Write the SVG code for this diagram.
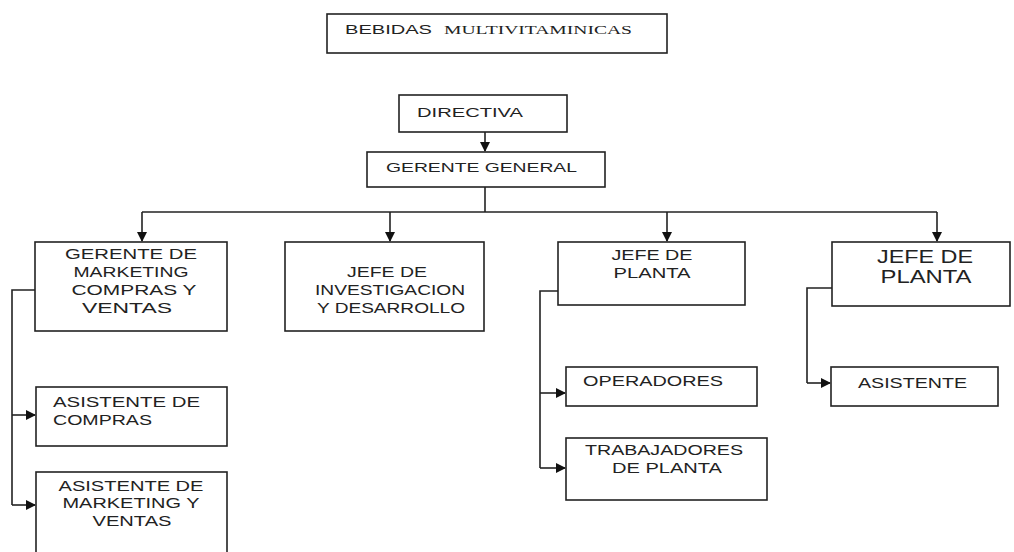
<svg xmlns="http://www.w3.org/2000/svg" width="1014" height="552" viewBox="0 0 1014 552">
<defs>
<marker id="ah" markerWidth="10" markerHeight="10" refX="9" refY="5" orient="auto" markerUnits="userSpaceOnUse">
<path d="M0,0 L10,5 L0,10 Z" fill="#111"/>
</marker>
<style>
.box{fill:#fff;stroke:#222;stroke-width:1.6}
.ln{fill:none;stroke:#222;stroke-width:1.6}
.t{font-family:"Liberation Sans",Arial,sans-serif;font-size:14px;fill:#222}
.tc{text-anchor:middle}
.big{font-size:18px}
.sm{font-size:12px}
</style>
</defs>
<rect width="1014" height="552" fill="#fff"/>

<g id="connectors">
<line class="ln" x1="485" y1="132" x2="485" y2="151" marker-end="url(#ah)"/>
<polyline class="ln" points="485,187 485,212"/>
<polyline class="ln" points="142,212 937,212"/>
<line class="ln" x1="142" y1="212" x2="142" y2="241" marker-end="url(#ah)"/>
<line class="ln" x1="390" y1="212" x2="390" y2="241" marker-end="url(#ah)"/>
<line class="ln" x1="667" y1="212" x2="667" y2="241" marker-end="url(#ah)"/>
<line class="ln" x1="937" y1="212" x2="937" y2="241" marker-end="url(#ah)"/>
<polyline class="ln" points="35,290 12,290 12,505"/>
<line class="ln" x1="12" y1="415" x2="35" y2="415" marker-end="url(#ah)"/>
<line class="ln" x1="12" y1="505" x2="35" y2="505" marker-end="url(#ah)"/>
<polyline class="ln" points="558,291 540,291 540,468"/>
<line class="ln" x1="540" y1="393" x2="565" y2="393" marker-end="url(#ah)"/>
<line class="ln" x1="540" y1="468" x2="565" y2="468" marker-end="url(#ah)"/>
<polyline class="ln" points="832,288 807,288 807,383"/>
<line class="ln" x1="807" y1="383" x2="830" y2="383" marker-end="url(#ah)"/>
</g>

<g id="title">
<rect class="box" x="327" y="14" width="340" height="39"/>
<text class="t sm" x="345" y="34" textLength="87" lengthAdjust="spacingAndGlyphs">BEBIDAS</text>
<text class="t sm" x="444" y="34" textLength="188" lengthAdjust="spacingAndGlyphs" style="font-family:'Liberation Serif','Times New Roman',serif;font-size:13px">MULTIVITAMINICAS</text>
</g>

<g id="directiva">
<rect class="box" x="399" y="95" width="168" height="37"/>
<text class="t" x="417" y="117" textLength="106" lengthAdjust="spacingAndGlyphs" style="font-size:13px">DIRECTIVA</text>
</g>

<g id="gerente-general">
<rect class="box" x="367" y="152" width="238" height="35"/>
<text class="t" x="386" y="172" textLength="191" lengthAdjust="spacingAndGlyphs" style="font-size:13px">GERENTE GENERAL</text>
</g>

<g id="gerente-marketing">
<rect class="box" x="35" y="242" width="192" height="89"/>
<text class="t tc" x="131" y="259" textLength="132" lengthAdjust="spacingAndGlyphs">GERENTE DE</text>
<text class="t tc" x="131" y="277" textLength="115" lengthAdjust="spacingAndGlyphs">MARKETING</text>
<text class="t tc" x="134" y="295" textLength="125" lengthAdjust="spacingAndGlyphs">COMPRAS Y</text>
<text class="t tc" x="127" y="313" textLength="90" lengthAdjust="spacingAndGlyphs">VENTAS</text>
</g>

<g id="jefe-investigacion">
<rect class="box" x="285" y="242" width="199" height="89"/>
<text class="t tc" x="387" y="277" textLength="80" lengthAdjust="spacingAndGlyphs">JEFE DE</text>
<text class="t tc" x="390" y="295" textLength="150" lengthAdjust="spacingAndGlyphs">INVESTIGACION</text>
<text class="t tc" x="391" y="313" textLength="148" lengthAdjust="spacingAndGlyphs">Y DESARROLLO</text>
</g>

<g id="jefe-planta-1">
<rect class="box" x="558" y="242" width="187" height="63"/>
<text class="t tc" x="652" y="260" textLength="81" lengthAdjust="spacingAndGlyphs">JEFE DE</text>
<text class="t tc" x="652" y="278" textLength="77" lengthAdjust="spacingAndGlyphs">PLANTA</text>
</g>

<g id="jefe-planta-2">
<rect class="box" x="832" y="242" width="178" height="64"/>
<text class="t tc big" x="925" y="263" textLength="96" lengthAdjust="spacingAndGlyphs">JEFE DE</text>
<text class="t tc big" x="926" y="283" textLength="91" lengthAdjust="spacingAndGlyphs">PLANTA</text>
</g>

<g id="asistente-compras">
<rect class="box" x="36" y="387" width="191" height="59"/>
<text class="t" x="53" y="407" textLength="147" lengthAdjust="spacingAndGlyphs">ASISTENTE DE</text>
<text class="t" x="53" y="425" textLength="99" lengthAdjust="spacingAndGlyphs">COMPRAS</text>
</g>

<g id="asistente-marketing">
<rect class="box" x="36" y="472" width="191" height="90"/>
<text class="t tc" x="131" y="491" textLength="145" lengthAdjust="spacingAndGlyphs">ASISTENTE DE</text>
<text class="t tc" x="131" y="508" textLength="137" lengthAdjust="spacingAndGlyphs">MARKETING Y</text>
<text class="t tc" x="132" y="526" textLength="79" lengthAdjust="spacingAndGlyphs">VENTAS</text>
</g>

<g id="operadores">
<rect class="box" x="566" y="367" width="191" height="39"/>
<text class="t" x="583" y="386" textLength="140" lengthAdjust="spacingAndGlyphs">OPERADORES</text>
</g>

<g id="trabajadores">
<rect class="box" x="566" y="438" width="201" height="62"/>
<text class="t tc" x="664" y="455" textLength="158" lengthAdjust="spacingAndGlyphs">TRABAJADORES</text>
<text class="t tc" x="667" y="473" textLength="110" lengthAdjust="spacingAndGlyphs">DE PLANTA</text>
</g>

<g id="asistente">
<rect class="box" x="831" y="367" width="167" height="39"/>
<text class="t" x="858" y="388" textLength="109" lengthAdjust="spacingAndGlyphs">ASISTENTE</text>
</g>
</svg>
